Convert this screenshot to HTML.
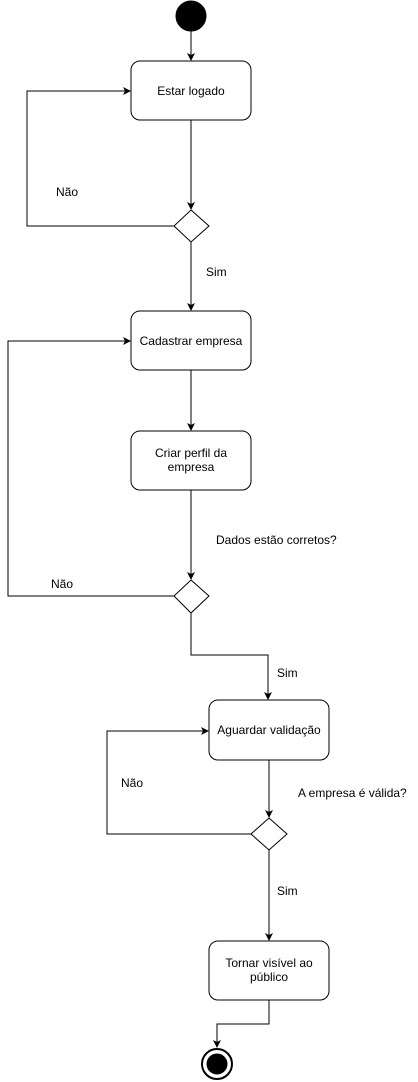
<!DOCTYPE html>
<html><head><meta charset="utf-8"><style>
html,body{margin:0;padding:0;background:#fff;width:418px;height:1082px;overflow:hidden}
svg text{font-family:"Liberation Sans",sans-serif;font-size:12px;fill:#000}
</style></head><body>
<svg width="418" height="1082" viewBox="0 0 418 1082" xmlns="http://www.w3.org/2000/svg">
<defs><marker id="a" markerWidth="8" markerHeight="8" refX="7" refY="4" orient="auto" markerUnits="userSpaceOnUse"><path d="M0,0 L8,4 L0,8 L2,4 z" fill="#000"/></marker></defs>
<g fill="none" stroke="#000" stroke-width="1">
<circle cx="191" cy="16" r="15" fill="#000"/>
<path d="M191,31 V60" marker-end="url(#a)"/>
<rect x="131" y="61" width="120" height="59" rx="9" fill="#fff"/>
<path d="M191,120 V209" marker-end="url(#a)"/>
<path d="M191,210 L209,226 L191,242 L174,226 Z" fill="#fff"/>
<path d="M174,226 H27 V91 H130" marker-end="url(#a)"/>
<path d="M191,242 V310" marker-end="url(#a)"/>
<rect x="131" y="311" width="120" height="59" rx="9" fill="#fff"/>
<path d="M191,370 V430" marker-end="url(#a)"/>
<rect x="131" y="431" width="120" height="59" rx="9" fill="#fff"/>
<path d="M191,490 V579" marker-end="url(#a)"/>
<path d="M191,580 L209,596 L191,613 L174,596 Z" fill="#fff"/>
<path d="M174,596 H8 V341 H130" marker-end="url(#a)"/>
<path d="M191,613 V655 H268 V699" marker-end="url(#a)"/>
<rect x="209" y="700" width="120" height="60" rx="9" fill="#fff"/>
<path d="M269,760 V817" marker-end="url(#a)"/>
<path d="M269,818 L287,834 L269,850 L251,834 Z" fill="#fff"/>
<path d="M251,834 H107 V731 H208" marker-end="url(#a)"/>
<path d="M269,850 V940" marker-end="url(#a)"/>
<rect x="209" y="941" width="120" height="59" rx="9" fill="#fff"/>
<path d="M269,1000 V1024 H217 V1047" marker-end="url(#a)"/>
<circle cx="217" cy="1064" r="15" stroke-width="2" fill="#fff"/>
<circle cx="217" cy="1064" r="10" fill="#000"/>
</g>
<g text-anchor="middle">
<text x="191" y="95">Estar logado</text>
<text x="191" y="345">Cadastrar empresa</text>
<text x="191" y="457">Criar perfil da</text>
<text x="191" y="471">empresa</text>
<text x="269" y="734">Aguardar validação</text>
<text x="269" y="967">Tornar visível ao</text>
<text x="269" y="981">público</text>
</g>
<text x="56" y="196">Não</text>
<text x="206" y="276">Sim</text>
<text x="216" y="544">Dados estão corretos?</text>
<text x="51" y="588">Não</text>
<text x="277" y="677">Sim</text>
<text x="298" y="797">A empresa é válida?</text>
<text x="121" y="787">Não</text>
<text x="277" y="895">Sim</text>
</svg>
</body></html>
